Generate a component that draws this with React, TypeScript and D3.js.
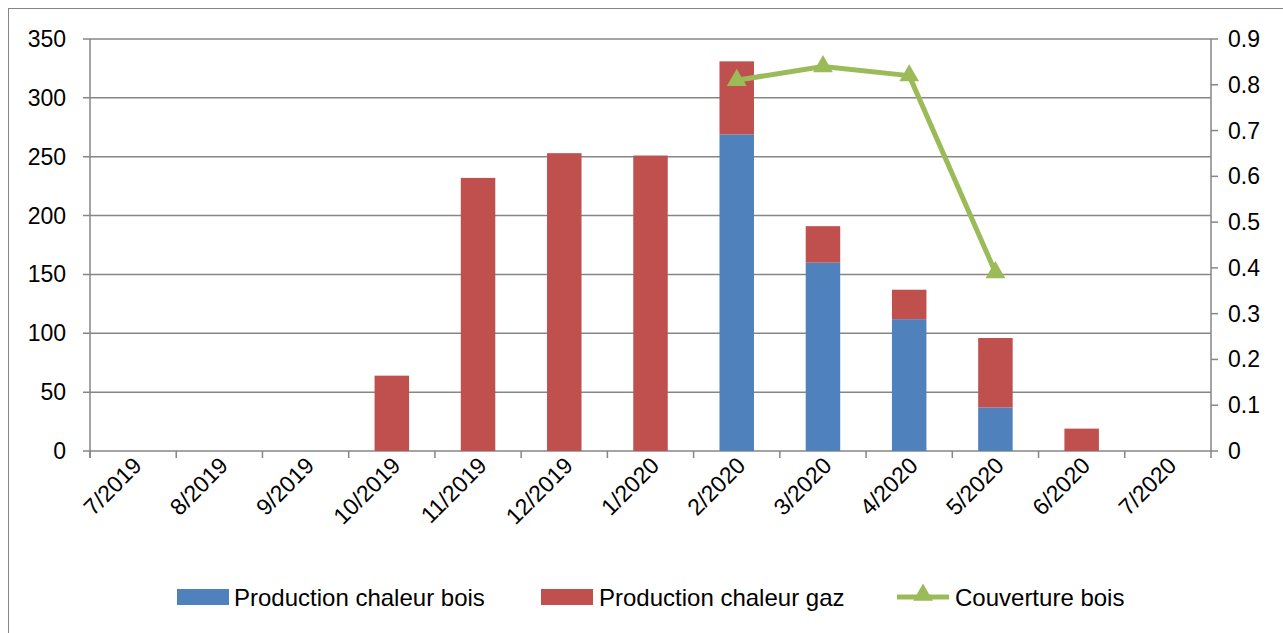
import React from "react";
import * as d3 from "d3";

const categories = ["7/2019","8/2019","9/2019","10/2019","11/2019","12/2019","1/2020","2/2020","3/2020","4/2020","5/2020","6/2020","7/2020"];
const bois = [0,0,0,0,0,0,0,269,160,112,37,0,0];
const gaz = [0,0,0,64,232,253,251,62,31,25,59,19,0];
const couverture: (number|null)[] = [null,null,null,null,null,null,null,0.81,0.84,0.82,0.39,null,null];
const leftTicks = [0,50,100,150,200,250,300,350];
const rightTicks = [0,0.1,0.2,0.3,0.4,0.5,0.6,0.7,0.8,0.9];

const W = 1283, H = 633;
const L = 90, R = 1211, T = 39, B = 451;
const FONT = "'Liberation Sans', Arial, sans-serif";
const BLUE = "#4F81BD", RED = "#C0504D", GREEN = "#9BBB59", GRID = "#868686";

export default function App() {
  const x = d3.scaleBand<string>().domain(categories).range([L, R]).paddingInner(0.6).paddingOuter(0.3);
  const xStep = d3.scaleBand<string>().domain(categories).range([L, R]);
  const y = d3.scaleLinear().domain([0, 350]).range([B, T]);
  const y2 = d3.scaleLinear().domain([0, 0.9]).range([B, T]);
  const pts = categories.map((c, i) => ({ c, v: couverture[i] })).filter(d => d.v !== null) as {c:string; v:number}[];
  const line = d3.line<{c:string; v:number}>().x(d => xStep(d.c)! + xStep.bandwidth() / 2).y(d => y2(d.v));
  const tri = d3.symbol().type(d3.symbolTriangle).size(170)();
  const legendY = 597;
  return (
    <svg width={W} height={H} style={{ position: "absolute", left: 0, top: 0 }} fontFamily={FONT}>
      <rect x={0} y={0} width={W} height={H} fill="#fff" />
      <rect x={8.5} y={8.5} width={W} height={H} fill="none" stroke={GRID} strokeWidth={1} />
      {leftTicks.map(t => (
        <g key={t}>
          <line x1={L - 7} x2={R} y1={y(t)} y2={y(t)} stroke={GRID} strokeWidth={1.5} />
          <text x={66} y={y(t) + 8} fontSize={23} textAnchor="end" fill="#000">{t}</text>
        </g>
      ))}
      {rightTicks.map(t => (
        <g key={t}>
          <line x1={R} x2={R + 7} y1={y2(t)} y2={y2(t)} stroke={GRID} strokeWidth={1.5} />
          <text x={1228} y={y2(t) + 8} fontSize={23} fill="#000">{t}</text>
        </g>
      ))}
      <line x1={L} x2={L} y1={T} y2={B + 7} stroke={GRID} strokeWidth={1.5} />
      <line x1={R} x2={R} y1={T} y2={B + 7} stroke={GRID} strokeWidth={1.5} />
      {categories.map(c => (
        <line key={c} x1={xStep(c)!} x2={xStep(c)!} y1={B} y2={B + 7} stroke={GRID} strokeWidth={1.5} />
      ))}
      {categories.map((c, i) => (
        <g key={c}>
          {bois[i] > 0 && <rect x={x(c)} y={y(bois[i])} width={x.bandwidth()} height={y(0) - y(bois[i])} fill={BLUE} />}
          {gaz[i] > 0 && <rect x={x(c)} y={y(bois[i] + gaz[i])} width={x.bandwidth()} height={y(bois[i]) - y(bois[i] + gaz[i])} fill={RED} />}
        </g>
      ))}
      <path d={line(pts)!} fill="none" stroke={GREEN} strokeWidth={5} strokeLinejoin="round" />
      {pts.map(d => (
        <path key={d.c} d={tri!} transform={`translate(${xStep(d.c)! + xStep.bandwidth() / 2},${y2(d.v)})`} fill={GREEN} />
      ))}
      {categories.map(c => {
        const cx = xStep(c)! + xStep.bandwidth() / 2 + 10;
        return (
          <text key={c} transform={`translate(${cx},${B + 16}) rotate(-45)`} fontSize={23} textAnchor="end" fill="#000">{c}</text>
        );
      })}
      <rect x={177} y={legendY - 8} width={52} height={16} fill={BLUE} />
      <text x={234} y={legendY + 8.5} fontSize={24} fill="#000">Production chaleur bois</text>
      <rect x={541} y={legendY - 8} width={52} height={16} fill={RED} />
      <text x={599} y={legendY + 8.5} fontSize={24} fill="#000">Production chaleur gaz</text>
      <line x1={897} x2={949} y1={legendY} y2={legendY} stroke={GREEN} strokeWidth={5} />
      <path d={tri!} transform={`translate(923,${legendY - 2})`} fill={GREEN} />
      <text x={955} y={legendY + 8.5} fontSize={24} fill="#000">Couverture bois</text>
    </svg>
  );
}
